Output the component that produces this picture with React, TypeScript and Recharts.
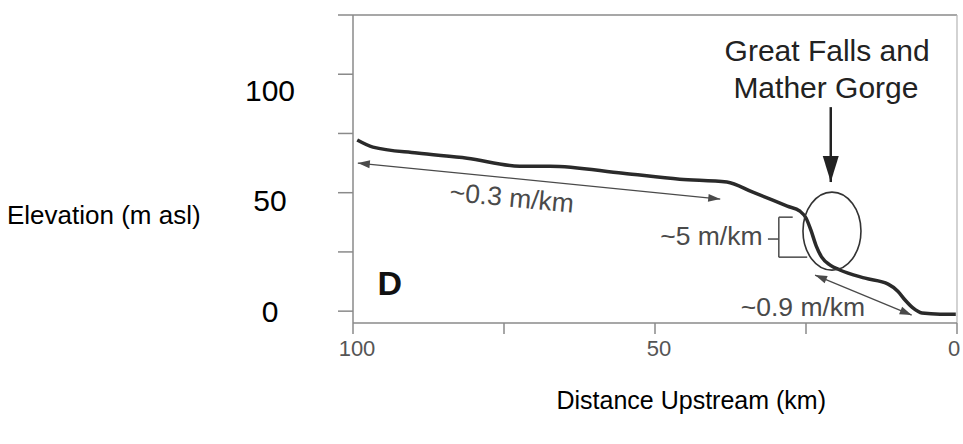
import React from "react";
import { LineChart, Line, XAxis, YAxis, ReferenceLine, ReferenceDot } from "recharts";

// profile (km upstream, elevation in the chart's label units)
const distanceKm = [99.3, 96.7, 89.4, 81.1, 72.4, 67.4, 55.3, 45.9, 38.1, 33.8, 28.1, 26.0, 25.0, 24.2, 23.3, 22.4, 21.0, 19.4, 15.2, 11.4, 9.8, 8.6, 7.3, 5.8, 2.8, 0.2];
const elevationM = [77.4, 74.2, 71.5, 69.2, 65.6, 65.6, 62.4, 59.7, 58.4, 53.8, 47.5, 45.2, 42.1, 36.7, 29.4, 24.4, 20.8, 18.6, 14.9, 12.2, 9.0, 5.0, 1.4, -0.9, -1.4, -1.4];

const xTicks = [0, 25, 50, 75, 100];
const xLabelTicks = [0, 50, 100];
const yLabelTicks = [0, 50, 100];
// the scanned figure's own tick marks (its own scale), which do not line up with the labels
const frameTicks = [0, 20, 40, 60, 80, 100];
const FRAME_MIN = -4;
const FRAME_MAX = 100;

const Y_MIN = -5.4;
const Y_MAX = 134;
const TICK_MARGIN = 83;
const FRAME_TICK_LEN = 15;

const toValue = (v: number) => Y_MIN + ((v - FRAME_MIN) / (FRAME_MAX - FRAME_MIN)) * (Y_MAX - Y_MIN);
const frameTicksInValue = frameTicks.map(toValue);
const yTicks = [...yLabelTicks, ...frameTicksInValue].sort((a, b) => a - b);

const data = distanceKm.map((km, i) => ({ km, elev: elevationM[i] }));

const FONT = "'Liberation Sans', Arial, Helvetica, sans-serif";
const GREY = "#4a4a4a";
const AXIS = "#8a8a8a";

function arrow(both: boolean, color: string, w: number, len: number, half: number) {
  return (p: any) => {
    const { x1, y1, x2, y2 } = p;
    const a = Math.atan2(y2 - y1, x2 - x1);
    const head = (x: number, y: number, dir: number) => {
      const bx = x - Math.cos(dir) * len;
      const by = y - Math.sin(dir) * len;
      const nx = -Math.sin(dir) * half;
      const ny = Math.cos(dir) * half;
      return `${x},${y} ${bx + nx},${by + ny} ${bx - nx},${by - ny}`;
    };
    return (
      <g>
        <line x1={x1} y1={y1} x2={x2} y2={y2} stroke={color} strokeWidth={w} />
        <polygon points={head(x2, y2, a)} fill={color} />
        {both && <polygon points={head(x1, y1, a + Math.PI)} fill={color} />}
      </g>
    );
  };
}

function textAt(text: string, size: number, color: string, anchor = "middle", weight = "normal", rotate = 0) {
  return (p: any) => (
    <text
      x={p.cx}
      y={p.cy}
      dy="0.35em"
      textAnchor={anchor}
      fontSize={size}
      fontWeight={weight}
      fill={color}
      fontFamily={FONT}
      transform={rotate ? `rotate(${rotate} ${p.cx} ${p.cy})` : undefined}
    >
      {text}
    </text>
  );
}

const ellipse = (p: any) => (
  <ellipse cx={p.cx} cy={p.cy} rx={29} ry={39} fill="none" stroke="#333" strokeWidth={1.6} />
);

const XTick = (p: any) => {
  const v = p.payload.value;
  if (!xLabelTicks.includes(v)) return <g />;
  return (
    <text x={p.x + (v === 0 ? -3 : 4)} y={p.y} dy="0.71em" textAnchor="middle" fontSize={22} fill="#555" fontFamily={FONT}>
      {v}
    </text>
  );
};

// labels sit well left of the axis; the figure's tick marks hang off the axis line
const YTick = (p: any) => {
  const v = p.payload.value;
  if (yLabelTicks.includes(v)) {
    return (
      <text x={p.x} y={p.y} dy="0.355em" textAnchor="middle" fontSize={30} fill="#000" fontFamily={FONT}>
        {v}
      </text>
    );
  }
  const ax = p.x + TICK_MARGIN;
  return <line x1={ax - FRAME_TICK_LEN} y1={p.y} x2={ax} y2={p.y} stroke={AXIS} strokeWidth={1.5} />;
};

const seg = (a: [number, number], b: [number, number]) => [
  { x: a[0], y: a[1] },
  { x: b[0], y: b[1] },
];

export default function App() {
  const common = { xAxisId: "main", yAxisId: "value" };
  return (
    <div style={{ position: "absolute", left: 0, top: 0, background: "#fff" }}>
      <LineChart width={963} height={444} data={data} margin={{ top: 15, right: 6, bottom: 0, left: 0 }}>
        <XAxis
          xAxisId="main"
          dataKey="km"
          type="number"
          domain={[0, 100]}
          reversed
          ticks={xTicks}
          tick={<XTick />}
          tickSize={11}
          tickMargin={6}
          height={121}
          axisLine={{ stroke: AXIS, strokeWidth: 1.5 }}
          tickLine={{ stroke: AXIS, strokeWidth: 1.5 }}
          label={{
            content: (p: any) => (
              <text
                x={p.viewBox.x + p.viewBox.width * 0.56}
                y={p.viewBox.y + 86}
                textAnchor="middle"
                fontSize={25}
                fill="#000"
                fontFamily={FONT}
              >
                Distance Upstream (km)
              </text>
            ),
          }}
        />
        <YAxis
          yAxisId="value"
          type="number"
          domain={[Y_MIN, Y_MAX]}
          ticks={yTicks}
          tick={<YTick />}
          tickLine={false}
          axisLine={{ stroke: AXIS, strokeWidth: 1.5 }}
          tickSize={0}
          tickMargin={TICK_MARGIN}
          width={353}
          interval={0}
          label={{
            content: (p: any) => (
              <text
                x={p.viewBox.x + 7}
                y={p.viewBox.y + p.viewBox.height * 0.65}
                dy="0.35em"
                fontSize={26}
                fill="#000"
                fontFamily={FONT}
              >
                Elevation (m asl)
              </text>
            ),
          }}
        />

        <ReferenceLine {...common} y={Y_MAX} stroke={AXIS} strokeWidth={1.5} />
        <ReferenceLine {...common} x={0} stroke="#b5b5b5" strokeWidth={1.2} />

        <Line
          {...common}
          dataKey="elev"
          type="monotone"
          stroke="#2a2a2a"
          strokeWidth={3.5}
          dot={false}
          isAnimationActive={false}
        />

        {/* slope annotations */}
        <ReferenceLine {...common} segment={seg([99.2, 67.0], [39.2, 50.7])} shape={arrow(true, GREY, 1.3, 12, 4)} />
        <ReferenceDot {...common} x={73.7} y={51.4} r={0} shape={textAt("~0.3 m/km", 26.5, GREY, "middle", "normal", 5.5)} />

        <ReferenceLine {...common} segment={seg([27.2, 42.5], [29.5, 42.5])} stroke={GREY} strokeWidth={1.5} />
        <ReferenceLine {...common} segment={seg([29.5, 42.5], [29.5, 24.4])} stroke={GREY} strokeWidth={1.5} />
        <ReferenceLine {...common} segment={seg([29.5, 24.4], [24.8, 24.4])} stroke={GREY} strokeWidth={1.5} />
        <ReferenceLine {...common} segment={seg([31.3, 32.6], [29.5, 32.6])} stroke={GREY} strokeWidth={1.5} />
        <ReferenceDot {...common} x={32.2} y={34.2} r={0} shape={textAt("~5 m/km", 26.5, GREY, "end")} />

        <ReferenceLine {...common} segment={seg([23.5, 16.3], [7.5, -1.8])} shape={arrow(true, GREY, 1.3, 12, 4)} />
        <ReferenceDot {...common} x={25.5} y={1.8} r={0} shape={textAt("~0.9 m/km", 26.5, GREY)} />

        {/* Great Falls callout */}
        <ReferenceDot {...common} x={20.7} y={36.2} r={0} shape={ellipse} />
        <ReferenceLine {...common} segment={seg([20.9, 92.3], [20.9, 58.4])} shape={arrow(false, "#222", 2.5, 26, 8)} />
        <ReferenceDot {...common} x={21.5} y={118.1} r={0} shape={textAt("Great Falls and", 30, "#222")} />
        <ReferenceDot {...common} x={21.7} y={101.0} r={0} shape={textAt("Mather Gorge", 30, "#222")} />

        <ReferenceDot {...common} x={93.9} y={12.7} r={0} shape={textAt("D", 34, "#111", "middle", "bold")} />
      </LineChart>
    </div>
  );
}
